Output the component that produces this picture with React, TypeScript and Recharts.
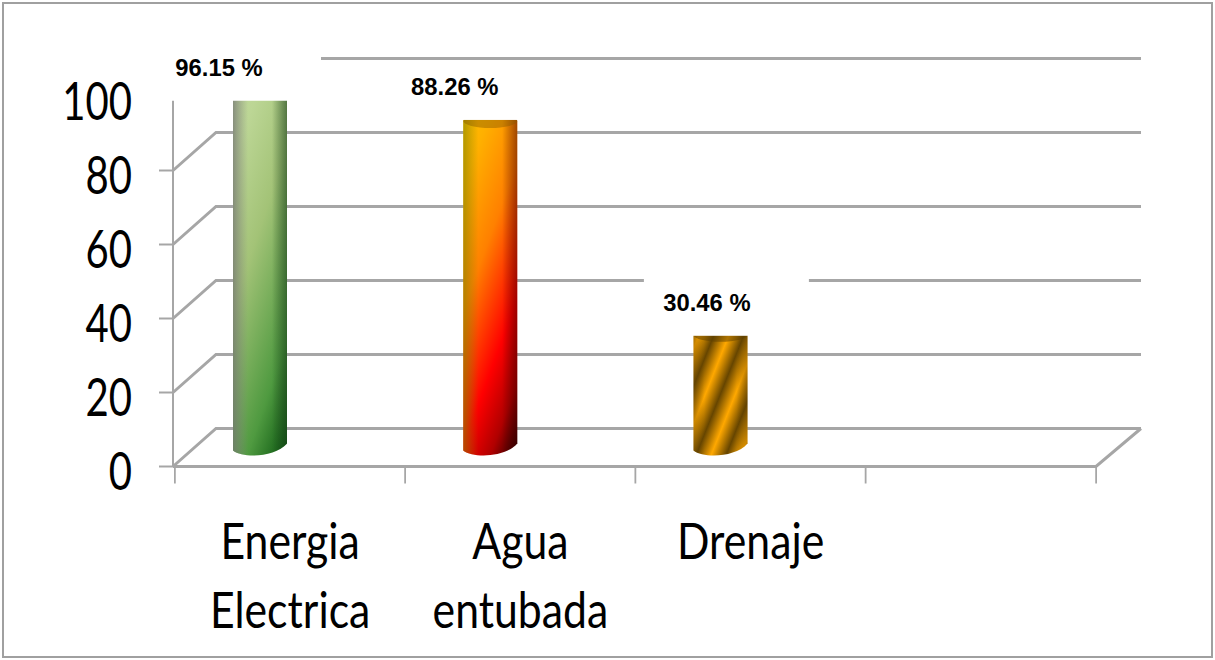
import { BarChart, Bar, XAxis, YAxis, CartesianGrid, LabelList } from 'recharts';

const categories = ['Energia Electrica', 'Agua entubada', 'Drenaje', ''];
const percentages = [96.15, 88.26, 30.46, null];
const valueTicks = [0, 20, 40, 60, 80, 100];

const chartData = categories.map((name, i) => ({ name, value: percentages[i] }));

// the bars sit off their category band, like the 3D original
const BAR_DX = -30;
const BAR_DY = -19;
const WALL_DX = 43;
const WALL_DY = -38;
const GRID = '#a6a6a6';
const LABEL_FONT = 'Lato, Carlito, sans-serif';

// where each white data label box sits, relative to its bar
const labelBoxes = [
  { dx: -104, dy: -68 },
  { dx: -98.5, dy: -78 },
  { dx: -76.6, dy: -76 },
];

function GridLine(props: any) {
  const { x1, x2, y1: y, key } = props;
  const isFloor = Math.abs(y - 466) < 1;
  return (
    <g key={key}>
      <path
        d={`M${x1},${y} L${x1 + WALL_DX},${y + WALL_DY} H${x2 + WALL_DX + 2}`}
        fill="none"
        stroke={GRID}
        strokeWidth={3}
      />
      {isFloor && (
        <path
          d={`M${x1},${y} H${x2} L${x2 + WALL_DX + 2},${y + WALL_DY}`}
          fill="none"
          stroke={GRID}
          strokeWidth={3}
        />
      )}
    </g>
  );
}

function Cylinder(props: any) {
  const { x, y, width, height, index } = props;
  const left = x + BAR_DX;
  const right = left + width;
  const top = y + BAR_DY;
  const bottom = top + height;
  const rx = width / 2;
  const ry = 7;
  const body = `M${left},${top} V${bottom + 3} C${left + 10},${bottom + 11} ${right - 12},${bottom + 10} ${right},${bottom - 4} V${top} A${rx},${ry} 0 0 0 ${left},${top} Z`;
  const cap = `M${left},${top} A${rx},${ry} 0 0 0 ${right},${top} A${rx},${ry} 0 0 0 ${left},${top} Z`;
  if (index === 2) {
    return (
      <g>
        <defs>
          <linearGradient
            id="stripe"
            gradientUnits="userSpaceOnUse"
            spreadMethod="repeat"
            x1={left + 20.5}
            y1={top}
            x2={left + 46.4}
            y2={top + 10.3}
          >
            <stop offset="0" stopColor="#664500" />
            <stop offset="0.5" stopColor="#ffa800" />
            <stop offset="1" stopColor="#664500" />
          </linearGradient>
        </defs>
        <path d={body} fill="url(#stripe)" />
        <path d={body} fill="url(#edgeStripe)" />
        <path d={cap} fill="#5e3f00" fillOpacity={0.5} />
      </g>
    );
  }
  const base = index === 0 ? 'baseGreen' : 'baseRed';
  const shade = index === 0 ? 'shadeGreen' : 'shadeRed';
  return (
    <g>
      <path d={body} fill={`url(#${base})`} />
      <path d={body} fill={`url(#${shade})`} />
      {index === 1 && <path d={cap} fill="#8a5a00" fillOpacity={0.45} />}
    </g>
  );
}

function ValueLabel(props: any) {
  const { x, y, width, value, index } = props;
  if (value == null) return null;
  const box = labelBoxes[index];
  const boxX = x + BAR_DX + width / 2 + box.dx;
  const boxY = y + box.dy;
  return (
    <g>
      <rect x={boxX} y={boxY} width={165} height={58} fill="#ffffff" />
      <text
        x={boxX + 63}
        y={boxY + 33}
        textAnchor="middle"
        fontFamily="'Liberation Sans', Arial, sans-serif"
        fontWeight="bold"
        fontSize={23.8}
        fill="#000000"
      >
        {`${value} %`}
      </text>
    </g>
  );
}

function ValueTick(props: any) {
  const { x, y, payload } = props;
  return (
    <text
      transform={`translate(${x},${y + 23}) scale(0.77,1)`}
      textAnchor="end"
      fontFamily={LABEL_FONT}
      fontSize={52}
      fill="#000000"
    >
      {payload.value}
    </text>
  );
}

function CategoryTick(props: any) {
  const { x, y, payload, index } = props;
  const half = 115.25;
  const lines = String(payload.value).split(' ');
  return (
    <g>
      <line x1={x - half} x2={x - half} y1={y} y2={y + 17} stroke={GRID} strokeWidth={1.8} />
      {index === categories.length - 1 && (
        <line x1={x + half} x2={x + half} y1={y} y2={y + 17} stroke={GRID} strokeWidth={1.8} />
      )}
      {lines.map((line, i) => (
        <text
          key={i}
          transform={`translate(${x},${y + 92 + i * 69}) scale(0.855,1)`}
          textAnchor="middle"
          fontFamily={LABEL_FONT}
          fontSize={50}
          fill="#000000"
        >
          {line}
        </text>
      ))}
    </g>
  );
}

export default function App() {
  return (
    <div style={{ position: 'absolute', left: 0, top: 0, width: 1215, height: 660, background: '#ffffff' }}>
      <div
        style={{
          position: 'absolute',
          left: 2,
          top: 2,
          width: 1211,
          height: 656,
          boxSizing: 'border-box',
          border: '2px solid #a0a0a0',
        }}
      />
      <BarChart
        width={1215}
        height={660}
        data={chartData}
        margin={{ top: 96.5, right: 119, bottom: 0, left: 0 }}
        barSize={54}
        style={{ position: 'absolute', left: 0, top: 0 }}
      >
        <defs>
          {/* diagonal fills: the colour bands run up to the right across the cylinder */}
          <linearGradient id="baseGreen" x1="0" y1="0" x2="0.517" y2="1.207">
            <stop offset="0" stopColor="#c0d89c" />
            <stop offset="0.15" stopColor="#bcd695" />
            <stop offset="0.42" stopColor="#a3c377" />
            <stop offset="0.78" stopColor="#4f9a40" />
            <stop offset="1" stopColor="#0a560f" />
          </linearGradient>
          <linearGradient id="shadeGreen" x1="0" y1="0" x2="1" y2="0">
            <stop offset="0" stopColor="#707070" stopOpacity={0.7} />
            <stop offset="0.28" stopColor="#808080" stopOpacity={0} />
            <stop offset="0.72" stopColor="#1a401a" stopOpacity={0} />
            <stop offset="1" stopColor="#1a401a" stopOpacity={0.6} />
          </linearGradient>
          <linearGradient id="baseRed" x1="0" y1="0" x2="0.517" y2="1.207">
            <stop offset="0" stopColor="#ffc000" />
            <stop offset="0.15" stopColor="#ffb000" />
            <stop offset="0.4" stopColor="#ff8000" />
            <stop offset="0.68" stopColor="#ff0000" />
            <stop offset="0.85" stopColor="#b00000" />
            <stop offset="1" stopColor="#200000" />
          </linearGradient>
          <linearGradient id="shadeRed" x1="0" y1="0" x2="1" y2="0">
            <stop offset="0" stopColor="#808000" stopOpacity={0.6} />
            <stop offset="0.28" stopColor="#808000" stopOpacity={0} />
            <stop offset="0.72" stopColor="#400000" stopOpacity={0} />
            <stop offset="1" stopColor="#400000" stopOpacity={0.5} />
          </linearGradient>
          <linearGradient id="edgeStripe" x1="0" y1="0" x2="1" y2="0">
            <stop offset="0" stopColor="#5e3f00" stopOpacity={0.35} />
            <stop offset="0.2" stopColor="#5e3f00" stopOpacity={0} />
            <stop offset="0.8" stopColor="#5e3f00" stopOpacity={0} />
            <stop offset="1" stopColor="#5e3f00" stopOpacity={0.35} />
          </linearGradient>
        </defs>
        <CartesianGrid vertical={false} horizontal={GridLine} />
        <XAxis
          dataKey="name"
          height={193.5}
          interval={0}
          padding={{ left: 2, right: 0 }}
          axisLine={false}
          tickLine={false}
          tickSize={0}
          tickMargin={0}
          tick={CategoryTick}
        />
        <YAxis
          width={173}
          domain={[0, 100]}
          ticks={valueTicks}
          interval={0}
          axisLine={{ stroke: GRID, strokeWidth: 2 }}
          tickLine={{ stroke: GRID, strokeWidth: 2 }}
          tickSize={14}
          tickMargin={27}
          tick={ValueTick}
        />
        <Bar dataKey="value" isAnimationActive={false} shape={Cylinder}>
          <LabelList dataKey="value" content={ValueLabel} />
        </Bar>
      </BarChart>
    </div>
  );
}
